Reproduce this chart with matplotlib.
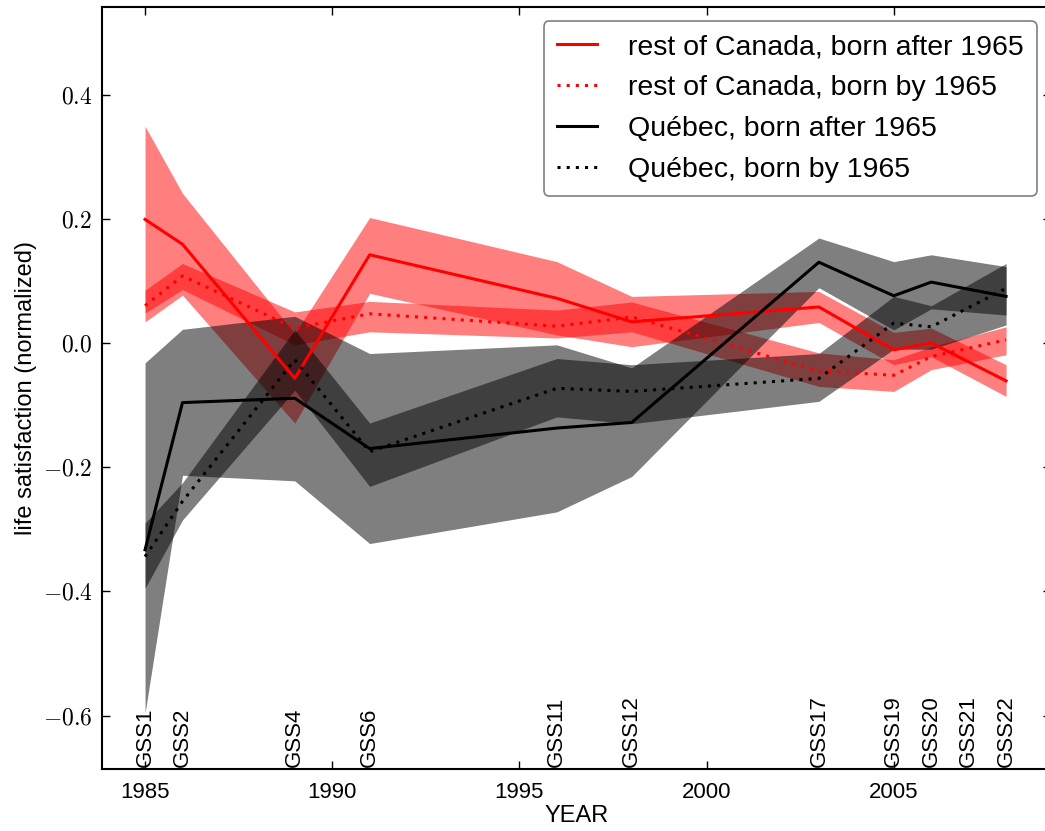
import numpy as np
import matplotlib
matplotlib.use('Agg')
import matplotlib.pyplot as plt
from matplotlib.ticker import FuncFormatter

plt.rcParams['font.family'] = ['Liberation Sans', 'DejaVu Sans']
plt.rcParams['mathtext.fontset'] = 'cm'

# survey years and GSS cycle labels
years = [1985, 1986, 1989, 1991, 1996, 1998, 2003, 2005, 2006, 2008]
gss_years = [1985, 1986, 1989, 1991, 1996, 1998, 2003, 2005, 2006, 2007, 2008]
gss_labels = ['GSS1', 'GSS2', 'GSS4', 'GSS6', 'GSS11', 'GSS12', 'GSS17',
              'GSS19', 'GSS20', 'GSS21', 'GSS22']

# rest of Canada, born after 1965
roc_after = [0.199, 0.159, -0.057, 0.142, 0.072, 0.034, 0.058, -0.011, 0.000, -0.061]
roc_after_lo = [0.034, 0.077, -0.129, 0.080, 0.013, -0.006, 0.033, -0.035, -0.022, -0.086]
roc_after_hi = [0.349, 0.241, 0.015, 0.202, 0.131, 0.075, 0.083, 0.017, 0.024, -0.035]

# rest of Canada, born by 1965
roc_by = [0.060, 0.108, 0.024, 0.047, 0.027, 0.042, -0.045, -0.052, -0.022, 0.005]
roc_by_lo = [0.048, 0.086, -0.003, 0.018, 0.008, 0.018, -0.070, -0.078, -0.043, -0.019]
roc_by_hi = [0.085, 0.128, 0.050, 0.067, 0.053, 0.066, -0.016, -0.027, -0.006, 0.026]

# Quebec, born after 1965
qc_after = [-0.333, -0.096, -0.089, -0.170, -0.137, -0.128, 0.130, 0.076, 0.098, 0.075]
qc_after_lo = [-0.596, -0.213, -0.222, -0.323, -0.272, -0.215, 0.089, 0.021, 0.055, 0.045]
qc_after_hi = [-0.032, 0.022, 0.043, -0.017, -0.003, -0.040, 0.169, 0.131, 0.142, 0.123]

# Quebec, born by 1965
qc_by = [-0.344, -0.255, -0.027, -0.175, -0.073, -0.078, -0.057, 0.032, 0.026, 0.088]
qc_by_lo = [-0.395, -0.285, -0.076, -0.231, -0.119, -0.130, -0.094, -0.010, -0.010, 0.029]
qc_by_hi = [-0.290, -0.225, 0.021, -0.129, -0.025, -0.035, -0.017, 0.075, 0.060, 0.128]

series = [
    ('rest of Canada, born after 1965', roc_after, roc_after_lo, roc_after_hi, 'red', '-'),
    ('rest of Canada, born by 1965', roc_by, roc_by_lo, roc_by_hi, 'red', (0, (1, 2))),
    (u'Qu\u00e9bec, born after 1965', qc_after, qc_after_lo, qc_after_hi, 'black', '-'),
    (u'Qu\u00e9bec, born by 1965', qc_by, qc_by_lo, qc_by_hi, 'black', (0, (1, 2))),
]

fig = plt.figure(figsize=(10.45, 8.31), dpi=100)
ax = fig.add_axes([102 / 1045, 62 / 831, 949 / 1045, 762 / 831])

# confidence bands first, lines on top
for label, mean, lo, hi, color, ls in series:
    ax.fill_between(years, lo, hi, color=color, alpha=0.5, linewidth=0)
for label, mean, lo, hi, color, ls in series:
    ax.plot(years, mean, color=color, linestyle=ls, linewidth=2.2, label=label)

ax.set_xlim(1983.85, 2009.2)
ax.set_ylim(-0.686, 0.541)

for yr, lab in zip(gss_years, gss_labels):
    ax.text(yr, -0.683, lab, rotation=90, ha='center', va='bottom', fontsize=16)

ax.set_xticks([1985, 1990, 1995, 2000, 2005])
ax.set_xticklabels(['1985', '1990', '1995', '2000', '2005'], fontsize=16)
ax.set_yticks([-0.6, -0.4, -0.2, 0.0, 0.2, 0.4])
ax.yaxis.set_major_formatter(FuncFormatter(lambda v, p: '$%.1f$' % v))
ax.tick_params(axis='y', labelsize=17)
ax.tick_params(direction='in', length=6, width=1, top=True, right=True)
ax.tick_params(axis='x', pad=9)
ax.tick_params(axis='y', pad=7)
for sp in ax.spines.values():
    sp.set_linewidth(1.5)

ax.set_xlabel('YEAR', fontsize=17, labelpad=2)
ax.set_ylabel('life satisfaction (normalized)', fontsize=17, labelpad=4)

leg = ax.legend(loc='upper right', fontsize=20.5, handlelength=1.4, handletextpad=1.1,
                labelspacing=0.52, borderpad=0.46, fancybox=True, framealpha=1)
leg.get_frame().set_edgecolor('#808080')
leg.get_frame().set_linewidth(1.2)

fig.savefig('out.png', dpi=100)
